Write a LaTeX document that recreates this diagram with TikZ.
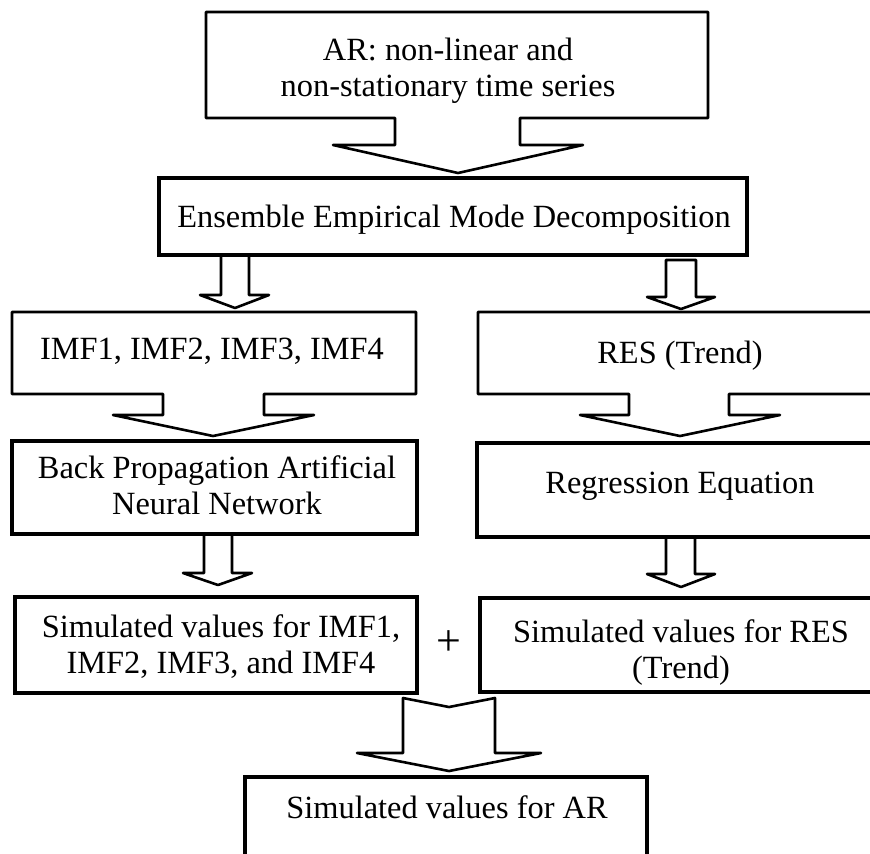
\documentclass[tikz,border=0pt]{standalone}
\usepackage{fontspec}
\setmainfont{Liberation Serif}
\usetikzlibrary{fit}
\tikzset{
  boxthick/.style={draw=black, line width=1.8pt, inner sep=0pt},
  callout/.style={draw=black, line width=1.3pt, line join=round},
  blockarrow/.style={draw=black, line width=1.3pt, line join=round},
  lbl/.style={font=\fontsize{16.2}{18}\selectfont, align=center, inner sep=0pt},
  plussign/.style={font=\fontsize{22}{22}\selectfont, inner sep=0pt},
}
\begin{document}
\begin{tikzpicture}[x=0.5pt,y=-0.5pt]
\fill[white] (0,0) rectangle (870,853);
\useasboundingbox (0,0) rectangle (870,853);
\begin{scope}
\clip (0,0) rectangle (870,853);

% callout boxes (box with block arrow at the bottom)
\draw[callout] (206,12) -- (708,12) -- (708,118) -- (520,118) -- (520,145) -- (583,145)
  -- (458,173) -- (333,145) -- (395,145) -- (395,118) -- (206,118) -- cycle;
\draw[callout] (12,312) -- (416,312) -- (416,394) -- (264,394) -- (264,415) -- (314,415)
  -- (213,436) -- (113,415) -- (163,415) -- (163,394) -- (12,394) -- cycle;
\draw[callout] (478,312) -- (900,312) -- (900,394) -- (729,394) -- (729,415) -- (780,415)
  -- (680,436) -- (580,415) -- (629,415) -- (629,394) -- (478,394) -- cycle;

% plain boxes
\node[boxthick, fit={(159,178) (747,255)}] (eemd) {};
\node[boxthick, fit={(12,441) (417,534)}] (bpann) {};
\node[boxthick, fit={(477,443) (900,537)}] (reg) {};
\node[boxthick, fit={(15,597) (417,693)}] (simimf) {};
\node[boxthick, fit={(480,598) (900,692)}] (simres) {};
\node[boxthick, fit={(245,777) (647,900)}] (final) {};

% block arrows
\draw[blockarrow] (221,255) -- (249,255) -- (249,295) -- (269,295) -- (235,308)
  -- (200,295) -- (221,295) -- cycle;
\draw[blockarrow] (666,260) -- (696,260) -- (696,297) -- (715,297) -- (681,309)
  -- (647,297) -- (666,297) -- cycle;
\draw[blockarrow] (204,534) -- (232,534) -- (232,573) -- (252,573) -- (218,585)
  -- (183,573) -- (204,573) -- cycle;
\draw[blockarrow] (666,537) -- (695,537) -- (695,574) -- (715,574) -- (681,587)
  -- (647,574) -- (666,574) -- cycle;
\draw[blockarrow] (403,698) -- (449,707) -- (495,698) -- (495,753) -- (541,753)
  -- (449,771) -- (357,753) -- (403,753) -- cycle;

% texts
\node[lbl] (t-top) at (448,71) {\strut AR: non-linear and\\\strut non-stationary time series};
\node[lbl] (t-eemd) at (454,220) {\strut Ensemble Empirical Mode Decomposition};
\node[lbl] (t-imf) at (212,352) {\strut IMF1, IMF2, IMF3, IMF4};
\node[lbl] (t-res) at (680,356) {\strut RES (Trend)};
\node[lbl] (t-bpann) at (217,489) {\strut Back Propagation Artificial\\\strut Neural Network};
\node[lbl] (t-reg) at (680,486) {\strut Regression Equation};
\node[lbl] (t-simimf) at (221,648) {\strut Simulated values for IMF1,\\\strut IMF2, IMF3, and IMF4};
\node[lbl] (t-simres) at (681,653) {\strut Simulated values for RES\\\strut (Trend)};
\node[plussign] (t-plus) at (449,643) {+};
\node[lbl] (t-final) at (447,811) {\strut Simulated values for AR};
\end{scope}
\end{tikzpicture}
\end{document}
